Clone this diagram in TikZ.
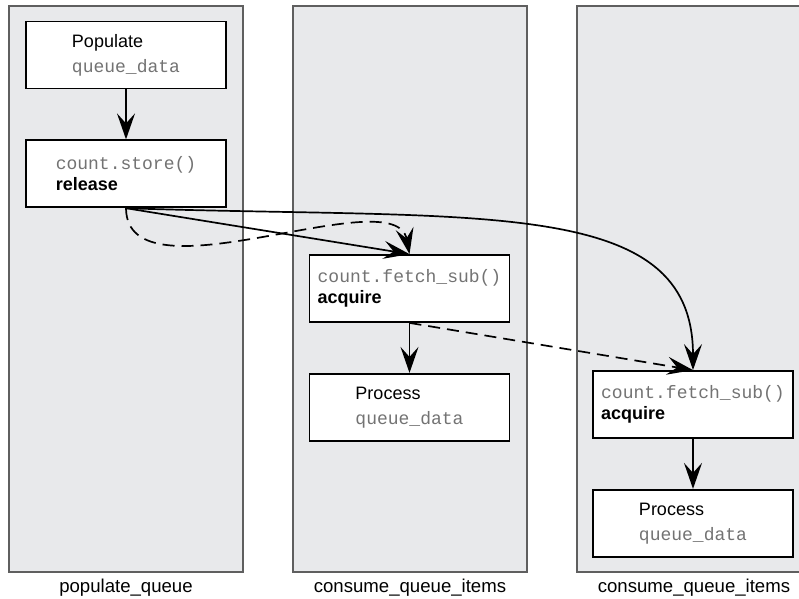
\documentclass[tikz,border=0pt]{standalone}
\usepackage{fontspec}
\setmainfont{Liberation Sans}
\setmonofont{Liberation Mono}
\usetikzlibrary{positioning,arrows.meta}
\definecolor{panelgray}{RGB}{232,233,235}
\definecolor{panelline}{RGB}{95,95,95}
\definecolor{codegray}{RGB}{115,115,115}
\newcommand\qcode[1]{\textcolor{codegray}{\texttt{#1}}}

\begin{document}
\begin{tikzpicture}[x=0.5pt,y=-0.5pt,
    panel/.style={fill=panelgray,draw=panelline,line width=0.75pt},
    opbox/.style={draw,fill=white,line width=0.9pt,minimum width=100pt,minimum height=33.5pt,align=left,font=\fontsize{9}{10.5}\selectfont},
    flow/.style={line width=0.85pt,-{Stealth[length=13pt,width=9pt,inset=5pt]}},
    sync/.style={flow,dash pattern=on 6pt off 3.5pt},
    lbl/.style={font=\fontsize{9.3}{11}\selectfont}]

  \useasboundingbox (0,0) rectangle (799,599);

  % thread columns
  \draw[panel] (9,6) rectangle (243,572);
  \draw[panel] (293,6) rectangle (527,572);
  \fill[panelgray] (577,6) rectangle (799,572);
  \draw[panelline,line width=0.75pt] (799,6) -- (577,6) -- (577,572) -- (799,572);

  \node[opbox] (populate) at (126,55) {Populate\\[2pt]\qcode{queue\_data}};
  \node[opbox,below=25pt of populate] (store) {\qcode{count.store()}\\\textbf{release}};

  \node[opbox] (fetchA) at (409.5,288.5) {\qcode{count.fetch\_sub()}\\\textbf{acquire}};
  \node[opbox,below=25pt of fetchA] (processA) {Process\\[2pt]\qcode{queue\_data}};

  \node[opbox] (fetchB) at (693,404.5) {\qcode{count.fetch\_sub()}\\\textbf{acquire}};
  \node[opbox,below=25pt of fetchB] (processB) {Process\\[2pt]\qcode{queue\_data}};

  \node[lbl] (popname) at (126,588) {populate\_queue};
  \node[lbl] (consnameA) at (410,588) {consume\_queue\_items};
  \node[lbl] (consnameB) at (694,588) {consume\_queue\_items};

  \draw[flow] (populate) -- (store);
  \draw[flow] (fetchA) -- (processA);
  \draw[flow] (fetchB) -- (processB);

  % release -> acquire
  \draw[flow] (store.south) -- (fetchA.north);
  \draw[flow] (store.south) .. controls (480,220) and (693,195) .. (fetchB.north);
  \draw[sync] (store.south) .. controls (127,305) and (395,178) .. (fetchA.north);
  \draw[sync] (fetchA.south) -- (fetchB.north);

\end{tikzpicture}
\end{document}
